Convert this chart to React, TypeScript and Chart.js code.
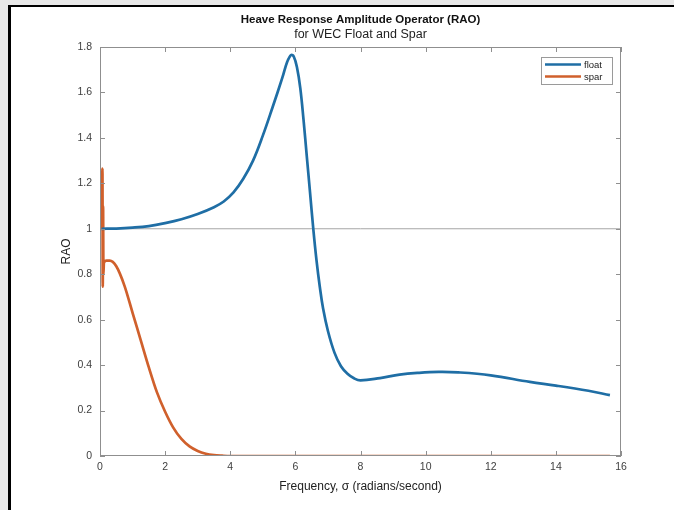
import { useEffect, useRef } from "react";
import { Chart, registerables } from "chart.js";

Chart.register(...registerables);

// ---- data ----
const floatX = [0.05, 0.5, 1, 1.5, 2, 2.5, 3, 3.5, 3.8, 4.1, 4.4, 4.7, 5.0, 5.3, 5.6, 5.75, 5.87, 5.95, 6.05, 6.15, 6.25, 6.35, 6.45, 6.55, 6.65, 6.75, 6.85, 7.0, 7.2, 7.4, 7.6, 7.8, 8.0, 8.6, 9.2, 9.8, 10.4, 11, 12, 13.2, 14, 15, 15.66];
const floatY = [1.0, 1.001, 1.005, 1.012, 1.025, 1.042, 1.065, 1.095, 1.12, 1.16, 1.22, 1.30, 1.41, 1.535, 1.665, 1.735, 1.765, 1.758, 1.71, 1.62, 1.48, 1.32, 1.16, 1.0, 0.86, 0.745, 0.65, 0.55, 0.455, 0.395, 0.362, 0.342, 0.333, 0.343, 0.358, 0.366, 0.37, 0.368, 0.355, 0.326, 0.31, 0.287, 0.268];
const sparX = [0.06, 0.075, 0.085, 0.095, 0.105, 0.12, 0.2, 0.3, 0.5, 0.75, 1.0, 1.25, 1.5, 1.75, 2.0, 2.25, 2.5, 2.75, 3.0, 3.25, 3.5, 3.75, 4, 6, 8, 10, 12, 14, 15.66];
const sparY = [1.0, 1.265, 0.745, 1.1, 0.8, 0.85, 0.86, 0.86, 0.835, 0.75, 0.63, 0.51, 0.39, 0.28, 0.195, 0.125, 0.075, 0.042, 0.022, 0.01, 0.004, 0.0015, 0, 0, 0, 0, 0, 0, 0];
const referenceX = [0, 16];
const referenceY = [1, 1];

const seriesLabels = ["float", "spar"];
const xTickValues = [0, 2, 4, 6, 8, 10, 12, 14, 16];
const yTickValues = [0, 0.2, 0.4, 0.6, 0.8, 1, 1.2, 1.4, 1.6, 1.8];
const titleText = "Heave Response Amplitude Operator (RAO)";
const subtitleText = "for WEC Float and Spar";
const xAxisLabel = "Frequency, σ (radians/second)";
const yAxisLabel = "RAO";

const BLUE = "#1f6ea5";
const ORANGE = "#d0602c";
const AXIS = "#8f8f8f";
const FONT = "'Liberation Sans', Arial, sans-serif";

const toPoints = (xs: number[], ys: number[]) => xs.map((x, i) => ({ x, y: ys[i] }));

const matlabPlugin = {
  id: "matlabDecor",
  afterDraw(chart: any) {
    const { ctx, chartArea: a, scales } = chart;
    const xs = scales.x;
    const ys = scales.y;
    ctx.save();
    // box
    ctx.strokeStyle = AXIS;
    ctx.lineWidth = 1;
    ctx.strokeRect(Math.round(a.left) + 0.5, Math.round(a.top) + 0.5, Math.round(a.right - a.left) - 1, Math.round(a.bottom - a.top) - 1);
    // inward ticks on all four sides
    ctx.beginPath();
    xs.ticks.forEach((t: any) => {
      const px = Math.round(xs.getPixelForValue(t.value)) + 0.5;
      ctx.moveTo(px, a.bottom);
      ctx.lineTo(px, a.bottom - 5);
      ctx.moveTo(px, a.top);
      ctx.lineTo(px, a.top + 5);
    });
    ys.ticks.forEach((t: any) => {
      const py = Math.round(ys.getPixelForValue(t.value)) + 0.5;
      ctx.moveTo(a.left, py);
      ctx.lineTo(a.left + 5, py);
      ctx.moveTo(a.right, py);
      ctx.lineTo(a.right - 5, py);
    });
    ctx.stroke();
    // titles
    const cx = (a.left + a.right) / 2;
    ctx.fillStyle = "#111";
    ctx.textAlign = "center";
    ctx.textBaseline = "middle";
    ctx.font = `bold 11.5px ${FONT}`;
    ctx.fillText(titleText, cx, 20);
    ctx.font = `12.5px ${FONT}`;
    ctx.fillStyle = "#222";
    ctx.fillText(subtitleText, cx, 35);
    // legend
    const lx = 541, ly = 57, lw = 71, lh = 27;
    ctx.fillStyle = "#fff";
    ctx.fillRect(lx, ly, lw, lh);
    ctx.strokeStyle = "#9a9a9a";
    ctx.lineWidth = 1;
    ctx.strokeRect(lx + 0.5, ly + 0.5, lw, lh);
    const ds = chart.data.datasets;
    ctx.textAlign = "left";
    ctx.font = `9.5px ${FONT}`;
    [0, 1].forEach((i) => {
      const y = ly + 7.5 + i * 12;
      ctx.strokeStyle = ds[i].borderColor;
      ctx.lineWidth = 2.5;
      ctx.beginPath();
      ctx.moveTo(lx + 4, y);
      ctx.lineTo(lx + 40, y);
      ctx.stroke();
      ctx.fillStyle = "#222";
      ctx.fillText(ds[i].label, lx + 43, y + 0.5);
    });
    ctx.restore();
  },
};

export default function App() {
  const canvasRef = useRef<HTMLCanvasElement | null>(null);

  useEffect(() => {
    const canvas = canvasRef.current;
    if (!canvas) return;
    const chart = new Chart(canvas, {
      type: "line",
      data: {
        datasets: [
          {
            label: seriesLabels[0],
            data: toPoints(floatX, floatY),
            borderColor: BLUE,
            borderWidth: 2.7,
            pointRadius: 0,
            tension: 0.4,
            fill: false,
          },
          {
            label: seriesLabels[1],
            data: toPoints(sparX, sparY),
            borderColor: ORANGE,
            borderWidth: 2.7,
            pointRadius: 0,
            cubicInterpolationMode: "monotone",
            fill: false,
          },
          {
            label: "ref",
            data: toPoints(referenceX, referenceY),
            borderColor: "#a6a6a6",
            borderWidth: 1,
            pointRadius: 0,
            fill: false,
          },
        ],
      },
      options: {
        responsive: false,
        maintainAspectRatio: false,
        animation: false,
        devicePixelRatio: 1,
        layout: { padding: { left: 0, top: 47, right: 53, bottom: 0 } },
        plugins: {
          legend: { display: false },
          title: { display: false },
          tooltip: { enabled: false },
        },
        scales: {
          x: {
            type: "linear",
            min: 0,
            max: 16,
            afterFit: (s: any) => {
              s.height = 54;
            },
            afterBuildTicks: (s: any) => {
              s.ticks = xTickValues.map((v) => ({ value: v }));
            },
            grid: { display: false, drawTicks: false },
            border: { display: false },
            ticks: {
              padding: 5,
              color: "#404040",
              font: { family: FONT, size: 10.5 },
              maxRotation: 0,
              callback: (v: any) => String(v),
            },
            title: {
              display: true,
              text: xAxisLabel,
              color: "#222",
              font: { family: FONT, size: 12 },
              padding: { top: 0, bottom: 16 },
            },
          },
          y: {
            type: "linear",
            min: 0,
            max: 1.8,
            afterFit: (s: any) => {
              s.width = 100;
            },
            afterBuildTicks: (s: any) => {
              s.ticks = yTickValues.map((v) => ({ value: v }));
            },
            grid: { display: false, drawTicks: false },
            border: { display: false },
            ticks: {
              padding: 8,
              color: "#404040",
              font: { family: FONT, size: 10.5 },
              callback: (v: any) => String(Math.round(v * 10) / 10),
            },
            title: {
              display: true,
              text: yAxisLabel,
              color: "#222",
              font: { family: FONT, size: 12 },
              padding: { top: 59, bottom: 0 },
            },
          },
        },
      } as any,
      plugins: [matlabPlugin],
    });
    return () => chart.destroy();
  }, []);

  return (
    <div
      style={{
        position: "fixed",
        left: 0,
        top: 0,
        width: 674,
        height: 510,
        background: "#e8e8e8",
        overflow: "hidden",
      }}
    >
      <div
        style={{
          position: "absolute",
          left: 8,
          top: 5,
          right: -10,
          bottom: -10,
          background: "#fff",
          borderLeft: "3px solid #000",
          borderTop: "2px solid #000",
        }}
      />
      <canvas
        ref={canvasRef}
        width={674}
        height={510}
        style={{ position: "absolute", left: 0, top: 0, width: 674, height: 510 }}
      />
    </div>
  );
}
